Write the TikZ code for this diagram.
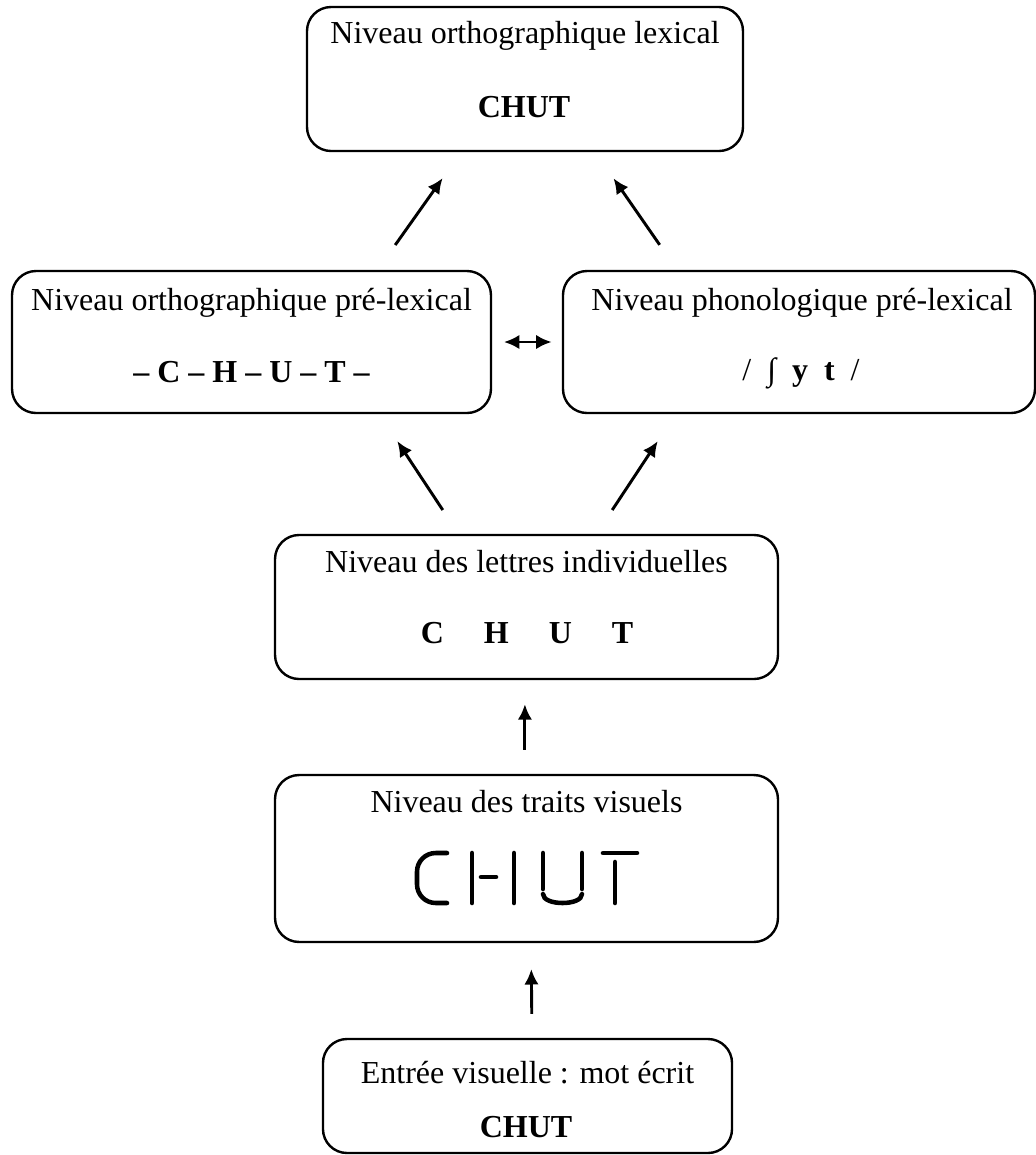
\documentclass[tikz,border=0pt]{standalone}
\usepackage{fontspec}
\setmainfont{Liberation Serif}
\usetikzlibrary{arrows.meta,positioning}

\begin{document}
\begin{tikzpicture}[
x=0.375pt,
y=-0.375pt,
boite/.style={
rectangle,
rounded corners=9pt,
line width=0.9pt,
draw=black,
inner sep=0pt
},
titre/.style={
inner sep=0pt,
anchor=base,
font=\fontsize{12}{14}\selectfont
},
mot/.style={
titre,
font=\fontsize{12}{14}\selectfont\bfseries
},
fleche/.style={
-{Latex[length=5.8pt,width=5.4pt]},
line width=1.1pt
},
trait/.style={
line width=1.7pt,
line cap=round
}]

\useasboundingbox (0,0) rectangle (1036,1155);

% boites
\node [boite, minimum width=163.5pt, minimum height=54pt] (lexical) at (525,79) {};
\node [boite, minimum width=179.6pt, minimum height=53.25pt] (orthpre) at (251.5,342) {};
\node [boite, minimum width=177pt, minimum height=53.25pt] (phonpre) at (799,342) {};
\node [boite, minimum width=188.6pt, minimum height=54pt] (lettres) at (526.5,607) {};
\node [boite, minimum width=188.6pt, minimum height=62.6pt] (traits) at (526.5,858.5) {};
\node [boite, minimum width=153.4pt, minimum height=42.75pt] (entree) at (527.5,1096) {};

% textes
\node [titre] (lexicalT) at (525,43) {Niveau orthographique lexical};
\node [mot] (lexicalM) at (524,117) {CHUT};
\node [titre] (orthpreT) at (251.5,310) {Niveau orthographique pré-lexical};
\node [mot] (orthpreM) at (251.5,382) {– C – H – U – T –};
\node [titre] (phonpreT) at (802,310) {Niveau phonologique pré-lexical};
\node [titre] (phonpreM) at (801,380) {/ \ ∫ \ \textbf{y \ t} \ /};
\node [titre] (lettresT) at (526.5,572) {Niveau des lettres individuelles};
\node [mot] (lettresM) at (527,643) {C\hspace{1.25em}H\hspace{1.25em}U\hspace{1.25em}T};
\node [titre] (traitsT) at (526.5,812) {Niveau des traits visuels};
\node [titre] (entreeT) at (527.5,1083) {Entrée visuelle : mot écrit};
\node [mot] (entreeM) at (526,1137) {CHUT};

% traits visuels
\draw[trait, rounded corners=7pt] (447,853) -- (417,853) -- (417,903) -- (447,903);
\draw[trait] (472,853) -- (472,903);
\draw[trait] (481,877) -- (496,877);
\draw[trait] (514,853) -- (514,903);
\draw[trait] (543,853) -- (543,889);
\draw[trait] (582,853) -- (582,889);
\draw[trait] (543,894) .. controls (543,906) and (582,906) .. (582,894);
\draw[trait] (603,853) -- (637,853);
\draw[trait] (615,862) -- (615,903);

% fleches
\draw[fleche, shorten <=11.4pt, shorten >=11.9pt] ([xshift=47.3pt]orthpre.north) -- ([xshift=-24pt]lexical.south);
\draw[fleche, shorten <=11.4pt, shorten >=11.9pt] ([xshift=-45.75pt]phonpre.north) -- ([xshift=26.4pt]lexical.south);
\draw[fleche, shorten <=10.7pt, shorten >=12.1pt] ([xshift=-25.5pt]lettres.north) -- ([xshift=48pt]orthpre.south);
\draw[fleche, shorten <=10.7pt, shorten >=12.1pt] ([xshift=26.25pt]lettres.north) -- ([xshift=-46.3pt]phonpre.south);
\draw[fleche, {Latex[length=5.8pt,width=5.4pt]}-{Latex[length=5.8pt,width=5.4pt]}, shorten <=4.4pt, shorten >=3.8pt] (orthpre.east) -- (phonpre.west);
\draw[fleche, shorten <=9pt, shorten >=9pt] ([xshift=-0.6pt]traits.north) -- ([xshift=-0.6pt]lettres.south);
\draw[fleche, shorten <=9pt, shorten >=9.7pt] ([xshift=1.7pt]entree.north) -- ([xshift=1.7pt]traits.south);

\end{tikzpicture}
\end{document}
